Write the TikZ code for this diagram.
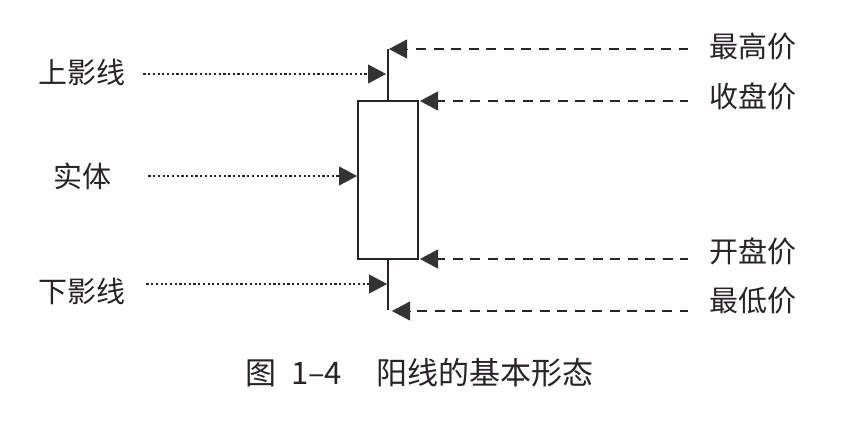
\documentclass[tikz,border=0pt]{standalone}
\usepackage{fontspec}
\setmainfont{Noto Sans CJK SC}
\usetikzlibrary{arrows.meta}
\definecolor{ink}{HTML}{2A2228}
\definecolor{tipc}{HTML}{333333}
\begin{document}
\begin{tikzpicture}[x=1pt,y=-1pt,
  lbl/.style={font=\fontsize{29}{29}\selectfont, text=ink, inner sep=0pt, anchor=west},
  captext/.style={font=\fontsize{31}{31}\selectfont, text=ink, inner sep=0pt, anchor=west},
  candle/.style={draw=ink, line width=2.2pt},
  bodybox/.style={draw=ink, line width=2.2pt, minimum width=60pt, minimum height=158pt, inner sep=0pt},
  dashline/.style={draw=ink, line width=2.2pt, dash pattern=on 10pt off 7.5pt},
  dotline/.style={draw=ink, line width=2.4pt, dash pattern=on 2.2pt off 2.5pt},
  tipline/.style={draw=tipc, line width=0.8pt, -{Triangle[length=18pt,width=19pt,line width=0.8pt,fill=tipc]}},
  dottip/.style={dotline, -{Triangle[length=18pt,width=19pt,line width=0.8pt,fill=tipc,color=tipc]}}
]
\path[use as bounding box, fill=white] (0,0) rectangle (866,428);

% candle
\node[bodybox] (body) at (388,180) {};
\coordinate (wtop) at (388,49);
\coordinate (wbot) at (388,310);
\draw[candle] (wtop) -- (wtop |- body.north);
\draw[candle] (wbot |- body.south) -- (wbot);

% arrow tip points
\coordinate (tHi) at (389,49);
\coordinate (tUp) at (386,74);
\coordinate (tCl) at (420,101);
\coordinate (tBody) at (357,176);
\coordinate (tOp) at (420,259);
\coordinate (tLs) at (387,284);
\coordinate (tLo) at (392,311);

% labels left
\node[lbl] (ul) at (38,72) {上影线};
\node[lbl] (bd) at (53,176) {实体};
\node[lbl] (ls) at (38,291) {下影线};

% labels right
\node[lbl] (hi) at (709,47) {最高价};
\node[lbl] (cl) at (709,96) {收盘价};
\node[lbl] (op) at (709,251) {开盘价};
\node[lbl] (lo) at (709,301) {最低价};

% dotted connectors
\draw[dottip] ([xshift=18pt]tUp -| ul.east) -- (tUp);
\draw[dottip] ([xshift=37pt]tBody -| bd.east) -- (tBody);
\draw[dottip] ([xshift=21pt]tLs -| ls.east) -- (tLs);

% dashed connectors
\draw[dashline] ([xshift=27pt]tHi) -- ([xshift=-21pt]tHi -| hi.west);
\draw[tipline] ([xshift=18pt]tHi) -- (tHi);
\draw[dashline] ([xshift=15pt]tCl) -- ([xshift=-21pt]tCl -| cl.west);
\draw[tipline] ([xshift=18pt]tCl) -- (tCl);
\draw[dashline] ([xshift=15pt]tOp) -- ([xshift=-21pt]tOp -| op.west);
\draw[tipline] ([xshift=18pt]tOp) -- (tOp);
\draw[dashline] ([xshift=25pt]tLo) -- ([xshift=-21pt]tLo -| lo.west);
\draw[tipline] ([xshift=18pt]tLo) -- (tLo);

% caption
\node[captext] (caption) at (245,373) {图\hspace{15pt}1–4\hspace{34pt}阳线的基本形态};
\end{tikzpicture}
\end{document}
